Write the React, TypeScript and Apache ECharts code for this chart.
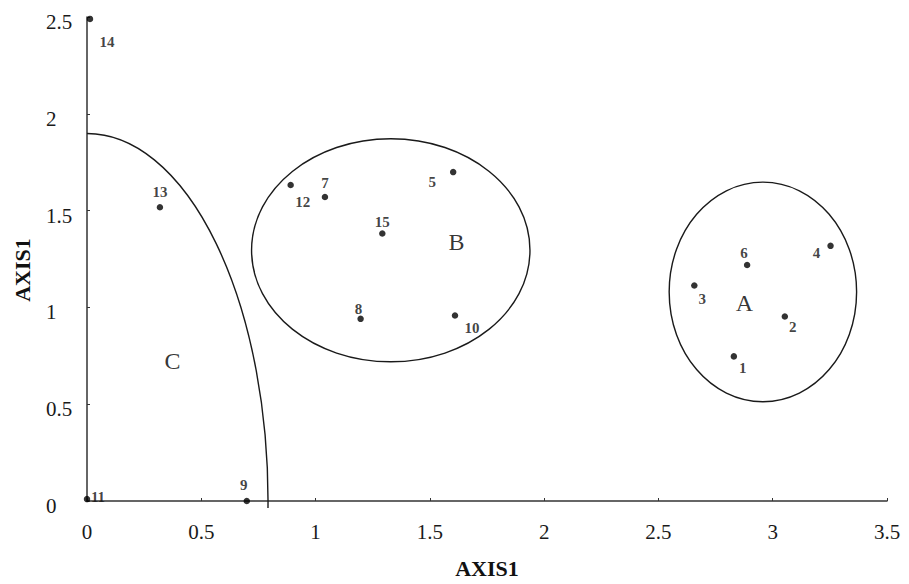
import React, { useEffect, useRef } from "react";
import * as echarts from "echarts";

// Point names and coordinates (AXIS1, AXIS1)
const pointNames = ["1", "2", "3", "4", "5", "6", "7", "8", "9", "10", "11", "12", "13", "14", "15"];
const pointX = [2.83, 3.053, 2.657, 3.253, 1.602, 2.888, 1.041, 1.197, 0.699, 1.61, 0.0, 0.891, 0.319, 0.013, 1.292];
const pointY = [0.747, 0.953, 1.113, 1.318, 1.699, 1.219, 1.57, 0.941, 0.0, 0.958, 0.01, 1.632, 1.517, 2.49, 1.382];

// Cluster ellipses: [centerX, centerY, radiusX, radiusY]
const clusterNames = ["A", "B"];
const clusterEllipses = [
  [2.957, 1.08, 0.41, 0.567],
  [1.329, 1.295, 0.609, 0.576],
];
// Cluster C boundary: quarter ellipse centred at origin [radiusX, radiusY, lowest y]
const clusterCBoundary = [0.792, 1.898, -0.036];

// Cluster letters positions
const letterNames = ["A", "B", "C"];
const letterX = [2.876, 1.617, 0.374];
const letterY = [1.024, 1.336, 0.723];

// Axis ticks
const xTicks = [0, 0.5, 1, 1.5, 2, 2.5, 3, 3.5];
const yTicks = [0, 0.5, 1, 1.5, 2, 2.5];

// label offsets (pixels) for point numbers — styling only
const labelOffsets: Record<string, [number, number]> = {
  "1": [9, 12],
  "2": [8, 11],
  "3": [8, 13],
  "4": [-14, 7],
  "5": [-21, 10],
  "6": [-3, -12],
  "7": [0, -14],
  "8": [-2, -10],
  "9": [-3, -16],
  "10": [17, 12],
  "11": [11, -2],
  "12": [12, 17],
  "13": [0, -15],
  "14": [17, 23],
  "15": [0, -11],
};

const SERIF = "'Liberation Serif', 'Times New Roman', serif";

export default function App() {
  const ref = useRef<HTMLDivElement>(null);
  useEffect(() => {
    if (!ref.current) return;
    const chart = echarts.init(ref.current, null, { renderer: "svg" });

    const points = pointNames.map((n, i) => ({
      name: n,
      value: [pointX[i], pointY[i]],
      label: { offset: labelOffsets[n] || [0, 0] },
    }));

    const letters = letterNames.map((n, i) => ({ name: n, value: [letterX[i], letterY[i]] }));

    const option: any = {
      animation: false,
      backgroundColor: "#fff",
      grid: { left: 87, right: 22, top: 17, bottom: 81, containLabel: false },
      xAxis: {
        type: "value",
        min: xTicks[0],
        max: xTicks[xTicks.length - 1],
        interval: 0.5,
        name: "AXIS1",
        nameLocation: "middle",
        nameGap: 56,
        nameTextStyle: { fontFamily: SERIF, fontWeight: "bold", fontSize: 22, color: "#111" },
        axisLine: { show: true, lineStyle: { color: "#333", width: 1.5 } },
        axisTick: { show: true, inside: true, length: 3, lineStyle: { color: "#333" } },
        axisLabel: { fontFamily: SERIF, fontSize: 21, color: "#1a1a1a", margin: 20 },
        splitLine: { show: false },
      },
      yAxis: {
        type: "value",
        min: yTicks[0],
        max: yTicks[yTicks.length - 1],
        interval: 0.5,
        axisLine: { show: true, lineStyle: { color: "#333", width: 1.5 } },
        axisTick: { show: true, inside: true, length: 3, lineStyle: { color: "#333" } },
        axisLabel: {
          fontFamily: SERIF,
          fontSize: 21,
          color: "#1a1a1a",
          margin: 41,
          align: "left",
          verticalAlign: "top",
          lineHeight: 10,
        },
        splitLine: { show: false },
      },
      graphic: [
        {
          type: "text",
          x: 22,
          y: 270,
          rotation: Math.PI / 2,
          style: {
            text: "AXIS1",
            fontFamily: SERIF,
            fontWeight: "bold",
            fontSize: 22,
            fill: "#111",
            align: "center",
            verticalAlign: "middle",
          },
        },
      ],
      series: [
        {
          type: "custom",
          name: "clusters",
          data: clusterEllipses.map((e, i) => ({ name: clusterNames[i], value: e })),
          encode: { x: 0, y: 1 },
          renderItem: (params: any, api: any) => {
            const c = api.coord([api.value(0), api.value(1)]);
            const s = api.size([api.value(2), api.value(3)]);
            return {
              type: "ellipse",
              shape: { cx: c[0], cy: c[1], rx: s[0], ry: s[1] },
              style: { fill: "none", stroke: "#1a1a1a", lineWidth: 1.4 },
            };
          },
          silent: true,
          z: 2,
        },
        {
          type: "custom",
          name: "boundaryC",
          data: [{ name: "C", value: clusterCBoundary }],
          encode: { x: 0, y: 1 },
          renderItem: (params: any, api: any) => {
            const rx = api.value(0);
            const ry = api.value(1);
            const yEnd = api.value(2);
            const xEnd = rx * Math.sqrt(1 - (yEnd / ry) * (yEnd / ry));
            const top = api.coord([0, ry]);
            const end = api.coord([xEnd, yEnd]);
            const sz = api.size([rx, ry]);
            const d = `M ${top[0]} ${top[1]} A ${sz[0]} ${sz[1]} 0 0 1 ${end[0]} ${end[1]}`;
            return {
              type: "path",
              shape: { pathData: d },
              style: { fill: "none", stroke: "#1a1a1a", lineWidth: 1.4 },
            };
          },
          clip: false,
          silent: true,
          z: 2,
        },
        {
          type: "scatter",
          name: "points",
          data: points,
          symbol: "circle",
          symbolSize: 6.5,
          itemStyle: { color: "#000" },
          clip: false,
          label: {
            show: true,
            position: "inside",
            formatter: "{b}",
            fontFamily: SERIF,
            fontWeight: "bold",
            fontSize: 15,
            color: "#111",
            align: "center",
            verticalAlign: "middle",
          },
          z: 5,
        },
        {
          type: "scatter",
          name: "letters",
          data: letters,
          symbol: "circle",
          symbolSize: 1,
          itemStyle: { color: "rgba(0,0,0,0)" },
          label: {
            show: true,
            position: "inside",
            formatter: "{b}",
            fontFamily: SERIF,
            fontSize: 24,
            color: "#000",
            align: "center",
            verticalAlign: "middle",
          },
          z: 4,
        },
      ],
    };
    chart.setOption(option);
    return () => chart.dispose();
  }, []);
  return (
    <div
      ref={ref}
      style={{ position: "fixed", left: 0, top: 0, width: 909, height: 584, background: "#fff" }}
    />
  );
}
